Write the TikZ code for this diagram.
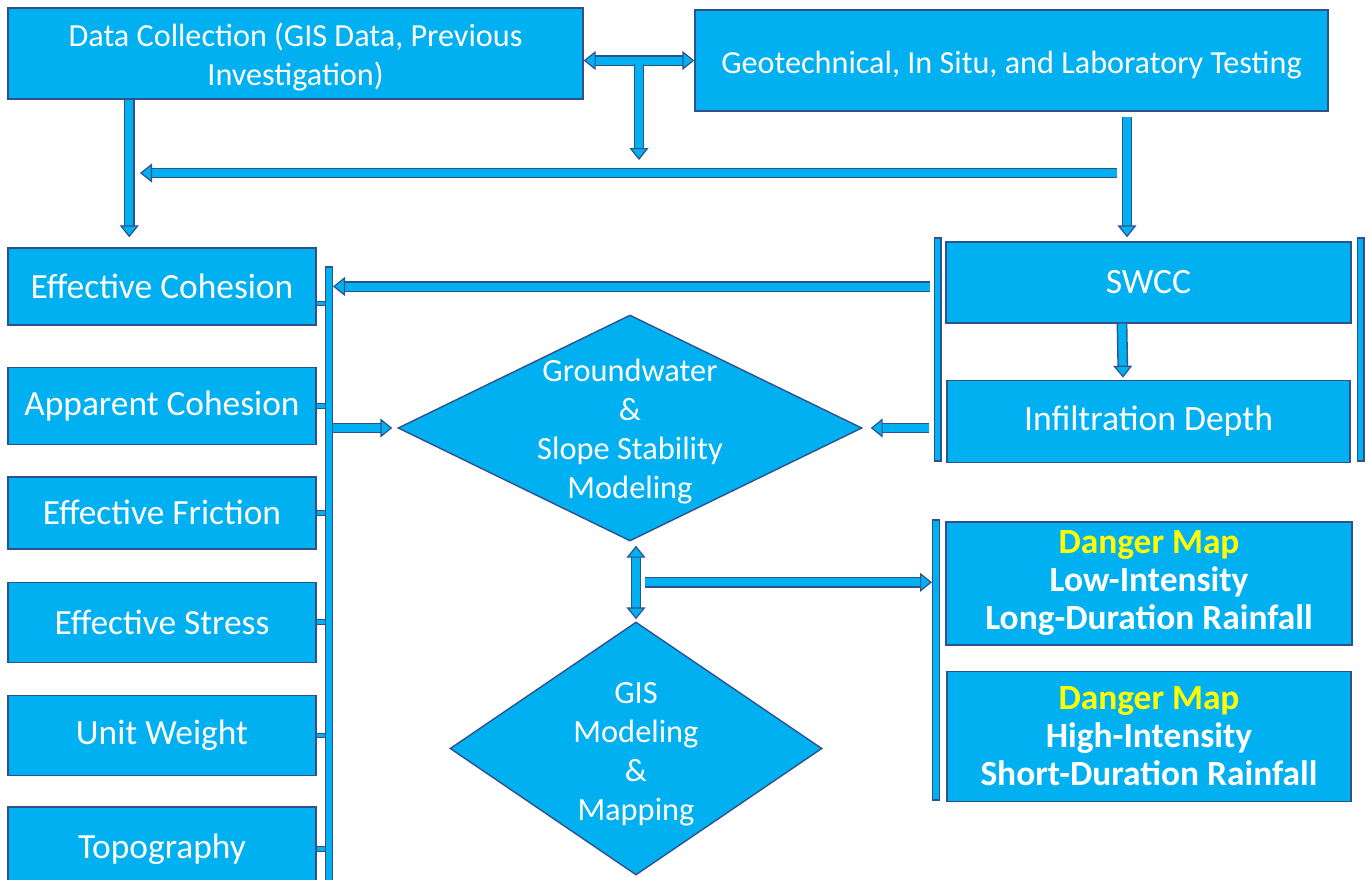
\documentclass[tikz,border=0pt]{standalone}
\usepackage{fontspec}
\setmainfont{Carlito}
\usetikzlibrary{positioning,arrows.meta,shapes.geometric,calc}
\definecolor{boxfill}{HTML}{00B0F0}
\definecolor{boxline}{HTML}{2F528F}
\definecolor{mapyellow}{HTML}{FFFF00}
\tikzstyle{box} = [rectangle,draw=boxline,fill=boxfill,line width=0.7pt,
                   text=white,align=center,inner sep=2pt]
\tikzstyle{topbox} = [box,font=\fontsize{16.1}{19.5}\selectfont]
\tikzstyle{lcol} = [box,minimum width=154pt,font=\fontsize{17.7}{19.5}\selectfont]
\tikzstyle{rcol} = [box,font=\fontsize{17.8}{19.5}\selectfont]
\tikzstyle{dia} = [diamond,draw=boxline,fill=boxfill,line width=0.7pt,
                   text=white,align=center,inner sep=-20pt,
                   font=\fontsize{16.2}{19.5}\selectfont]
\tikzstyle{bus} = [rectangle,draw=boxline,fill=boxfill,line width=0.6pt,
                   minimum width=3.4pt,inner sep=0]
\tikzstyle{flow} = [draw=boxline,double=boxfill,double distance=4pt,line width=0.7pt]
\tikzstyle{stub} = [draw=boxline,double=boxfill,double distance=1.8pt,line width=0.5pt]
\tikzstyle{map} = [box,font=\fontsize{17.7}{19}\selectfont\bfseries]

\begin{document}
\begin{tikzpicture}[
      x=0.5pt,y=-0.5pt,
      >={Triangle[length=6pt,width=9.5pt,fill=boxfill,line width=0.6pt]}]
     \useasboundingbox (0,0) rectangle (1372,879);

     % sources
     \node[topbox,minimum width=287.5pt,minimum height=45.5pt] (dc) at (295.5,53.5)
          {\rule{0pt}{15pt}Data Collection (GIS Data, Previous\\Investigation)};
     \node[topbox,minimum width=316.5pt,minimum height=50.5pt] (geo) at (1011.5,60.5)
          {\rule{0pt}{16pt}Geotechnical, In Situ, and Laboratory Testing};

     % soil parameters
     \node[lcol,minimum height=38.5pt] (coh) at (162,286.5) {Effective Cohesion};
     \node[lcol,minimum height=38.5pt] (app)  [below=20.5pt of coh] {Apparent Cohesion};
     \node[lcol,minimum height=36pt]   (fri)  [below=15.5pt of app] {Effective Friction};
     \node[lcol,minimum height=40pt]   (str)  [below=16pt of fri]   {Effective Stress};
     \node[lcol,minimum height=40pt]   (uw)   [below=16pt of str]   {Unit Weight};
     \node[lcol,minimum height=42pt]   (topo) [below=15pt of uw]    {Topography};

     % unsaturated side
     \node[rcol,minimum width=202.5pt,minimum height=40.5pt] (swcc) at (1148.5,282.5) {SWCC};
     \node[rcol,minimum width=201.5pt,minimum height=41pt] (inf) [below=28pt of swcc]
          {Infiltration Depth};

     % modeling
     \node[dia,minimum width=232pt,minimum height=113pt] (gw) at (630,428)
          {\rule{0pt}{15pt}Groundwater\\\&\\Slope Stability\\Modeling};
     \node[dia,minimum width=186pt,minimum height=126.5pt] (gis) at (636,748.5)
          {\rule{0pt}{16pt}GIS\\Modeling\\\&\\Mapping};

     % results
     \node[map,minimum width=203pt,minimum height=61.5pt] (dm1) at (1149,583.5)
          {\textcolor{mapyellow}{Danger Map}\\Low-Intensity\\Long-Duration Rainfall};
     \node[map,minimum width=202pt,minimum height=65pt] (dm2) [below=12.5pt of dm1]
          {\textcolor{mapyellow}{Danger Map}\\High-Intensity\\Short-Duration Rainfall};

     % bars
     \node[bus,minimum height=311.5pt] (lbus)  at (329,578.5) {};
     \node[bus,minimum height=111.5pt] (rbus1) at (937.5,349.5) {};
     \node[bus,minimum height=111.5pt] (rbus2) at (1360.5,349.5) {};
     \node[bus,minimum height=140pt]   (rbus3) at (936,660) {};

     \coordinate (mergeR) at (1117,173);
     \coordinate (mergeL) at (140,173);
     \coordinate (split) at ($(dc.east |- geo.west)!.5!(geo.west)$);

     \draw[flow,<->] (dc.east |- geo.west) -- (geo.west);
     \draw[flow,->] ([yshift=-1.9pt]split) -- ([yshift=6.5pt]split |- mergeL);
     \draw[flow,->] ([xshift=61pt]dc.south west) -- ([xshift=61pt,yshift=5pt]coh.north west);
     \draw[flow,->] ([xshift=57.75pt,yshift=-2.5pt]geo.south)
                 -- ([xshift=-10.75pt,yshift=2pt]swcc.north);
     \draw[flow,->] (mergeR) -- (mergeL);

     \draw[stub] ([yshift=-8.5pt]coh.east) -- ([yshift=-8.5pt]coh.east -| lbus.west);
     \draw[stub] (app.east)  -- (app.east -| lbus.west);
     \draw[stub] (fri.east)  -- (fri.east -| lbus.west);
     \draw[stub] (str.east)  -- (str.east -| lbus.west);
     \draw[stub] (uw.east)   -- (uw.east -| lbus.west);
     \draw[stub] (topo.east) -- (topo.east -| lbus.west);

     \draw[flow,->] ([xshift=-2pt]rbus1.west |- coh.east) -- (lbus.east |- coh.east);
     \draw[flow,->] (lbus.east |- gw.west) -- ([xshift=-2.5pt]gw.west);
     \draw[flow,->] ([xshift=-2.5pt]rbus1.west |- gw.east) -- ([xshift=4pt]gw.east);
     \draw[flow,->] ([xshift=-13.25pt]swcc.south) -- ([xshift=-12.75pt,yshift=1pt]inf.north);
     \draw[flow,<->] ($(gw.south -| gis.north)+(0,4)$) -- ($(gis.north)+(0,-2)$);
     \draw[flow,->] ($(gis.north)+(9,-39)$) coordinate (fork) -- (fork -| rbus3.west);

  \end{tikzpicture}
\end{document}
